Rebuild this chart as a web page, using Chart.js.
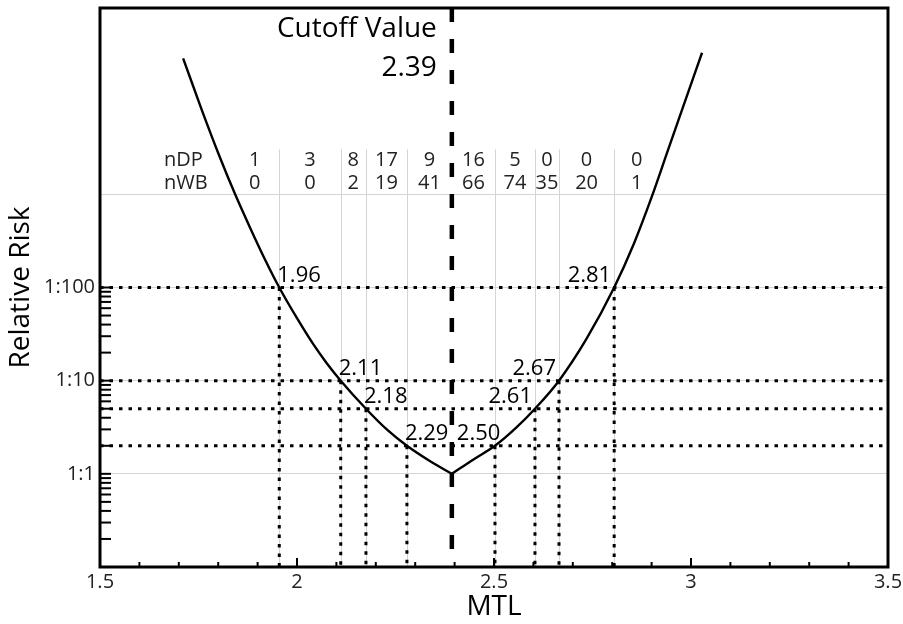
<!DOCTYPE html>
<html>
<head>
<meta charset="utf-8">
<script src="https://cdn.jsdelivr.net/npm/chart.js@4.4.1/dist/chart.umd.min.js"></script>
<style>
  html, body { margin: 0; padding: 0; background: #fff; }
  #wrap { width: 903px; height: 624px; }
</style>
</head>
<body>
<div id="wrap"><canvas id="chart"></canvas></div>
<script>
const FONT = '"Open Sans", "DejaVu Sans", sans-serif';

// fitted risk curve (MTL, relative risk)
const leftMTL   = [1.711, 1.758, 1.805, 1.843, 1.88, 1.92, 1.955, 2.0, 2.04, 2.075, 2.111, 2.175, 2.23, 2.279, 2.335, 2.393];
const leftRisk  = [28800, 8130, 2455, 1000, 447, 195, 100, 46.8, 25.1, 15.5, 10, 5, 2.94, 2, 1.39, 1];
const rightMTL  = [2.393, 2.45, 2.5025, 2.555, 2.604, 2.665, 2.735, 2.805, 2.855, 2.901, 2.942, 2.985, 3.028];
const rightRisk = [1, 1.445, 2, 3.09, 5, 10, 28.2, 100, 295, 955, 3020, 10000, 33100];

// thresholds marked on the curve
const thresholdMTL    = [1.955, 2.111, 2.175, 2.279, 2.5025, 2.604, 2.665, 2.805];
const thresholdRisk   = [100, 10, 5, 2, 2, 5, 10, 100];
const thresholdLabels = ['1.96', '2.11', '2.18', '2.29', '2.50', '2.61', '2.67', '2.81'];
const riskLevels      = [100, 10, 5, 2];

const cutoffMTL   = 2.393;
const cutoffLabel = '2.39';

// counts table
const binEdges = [1.83, 1.955, 2.111, 2.175, 2.279, 2.393, 2.5025, 2.604, 2.665, 2.805, 2.92];
const nDP = [1, 3, 8, 17, 9, 16, 5, 0, 0, 0];
const nWB = [0, 0, 2, 19, 41, 66, 74, 35, 20, 1];

// axes
const xTickValues = [1.5, 2, 2.5, 3, 3.5];
const xTickLabels = ['1.5', '2', '2.5', '3', '3.5'];
const xMinorTicks = [1.6, 1.7, 1.8, 1.9, 2.1, 2.2, 2.3, 2.4, 2.6, 2.7, 2.8, 2.9, 3.1, 3.2, 3.3, 3.4];
const yGridValues = [1, 10, 100, 1000];
const yTickValues = [1, 10, 100];
const yTickLabels = ['1:1', '1:10', '1:100'];
const yMinorTicks = [0.2, 0.3, 0.4, 0.5, 0.6, 0.7, 0.8, 0.9, 1, 2, 3, 4, 5, 6, 7, 8, 9, 10,
                     20, 30, 40, 50, 60, 70, 80, 90, 100];

const pts = (xs, ys) => xs.map((x, i) => ({ x: x, y: ys[i] }));

const datasets = [
  { data: pts(leftMTL, leftRisk), borderColor: '#000', borderWidth: 2.4, cubicInterpolationMode: 'monotone' },
  { data: pts(rightMTL, rightRisk), borderColor: '#000', borderWidth: 2.4, cubicInterpolationMode: 'monotone' },
  { data: [{ x: cutoffMTL, y: 100000 }, { x: cutoffMTL, y: 0.1 }], borderColor: '#000', borderWidth: 4.5, borderDash: [14, 17] }
];
riskLevels.forEach(r => {
  datasets.push({ data: [{ x: 1.5, y: r }, { x: 3.5, y: r }], borderColor: '#000', borderWidth: 3, borderDash: [3.5, 6] });
});
thresholdMTL.forEach((t, i) => {
  datasets.push({ data: [{ x: t, y: thresholdRisk[i] }, { x: t, y: 0.1 }], borderColor: '#000', borderWidth: 3, borderDash: [3.5, 6] });
});
datasets.forEach(d => { d.pointRadius = 0; d.fill = false; });

const decor = {
  id: 'decor',
  beforeDatasetsDraw(chart) {
    const { ctx, chartArea: a, scales: { x, y } } = chart;
    ctx.save();
    ctx.strokeStyle = '#d4d4d4';
    ctx.lineWidth = 1;
    const top = y.getPixelForValue(1000) - 45;
    binEdges.slice(1, -1).forEach(e => {
      if (e === cutoffMTL) return;
      const px = Math.round(x.getPixelForValue(e)) + 0.5;
      ctx.beginPath(); ctx.moveTo(px, top); ctx.lineTo(px, a.bottom); ctx.stroke();
    });
    ctx.restore();
  },
  afterDatasetsDraw(chart) {
    const { ctx, chartArea: a, scales: { x, y } } = chart;
    ctx.save();
    // minor ticks
    ctx.strokeStyle = '#000';
    ctx.lineWidth = 2;
    xMinorTicks.forEach(v => {
      const px = x.getPixelForValue(v);
      ctx.beginPath(); ctx.moveTo(px, a.bottom); ctx.lineTo(px, a.bottom - 5); ctx.stroke();
    });
    xTickValues.forEach(v => {
      const px = x.getPixelForValue(v);
      ctx.beginPath(); ctx.moveTo(px, a.bottom); ctx.lineTo(px, a.bottom - 9); ctx.stroke();
    });
    yMinorTicks.forEach(v => {
      const py = y.getPixelForValue(v);
      ctx.beginPath(); ctx.moveTo(a.left, py); ctx.lineTo(a.left + 11, py); ctx.stroke();
    });
    // box
    ctx.lineWidth = 3;
    ctx.strokeRect(a.left, a.top, a.right - a.left, a.bottom - a.top);

    ctx.fillStyle = '#000';
    ctx.textBaseline = 'alphabetic';
    // threshold labels
    const cx = x.getPixelForValue(cutoffMTL);
    ctx.font = '22px ' + FONT;
    thresholdMTL.forEach((t, i) => {
      const px = x.getPixelForValue(t);
      const py = y.getPixelForValue(thresholdRisk[i]) - 6;
      const w = ctx.measureText(thresholdLabels[i]).width;
      ctx.textAlign = 'left';
      if (t < cutoffMTL) {
        ctx.fillText(thresholdLabels[i], px - 2, py);
      } else {
        const left = Math.max(px - 3 - w, cx + 5);
        ctx.fillText(thresholdLabels[i], left, py);
      }
    });
    // cutoff text
    ctx.font = '28px ' + FONT;
    ctx.textAlign = 'right';
    ctx.fillText('Cutoff Value', cx - 15, a.top + 29);
    ctx.fillText(cutoffLabel, cx - 15, a.top + 68);
    // counts table
    ctx.font = '20px ' + FONT;
    ctx.fillStyle = '#222';
    const rowWB = y.getPixelForValue(1000) - 5;
    const rowDP = rowWB - 23;
    ctx.textAlign = 'left';
    ctx.fillText('nDP', 164, rowDP);
    ctx.fillText('nWB', 164, rowWB);
    ctx.textAlign = 'center';
    for (let i = 0; i < nDP.length; i++) {
      const mid = (x.getPixelForValue(binEdges[i]) + x.getPixelForValue(binEdges[i + 1])) / 2;
      ctx.fillText(String(nDP[i]), mid, rowDP);
      ctx.fillText(String(nWB[i]), mid, rowWB);
    }
    ctx.restore();
  }
};

new Chart(document.getElementById('chart'), {
  type: 'line',
  data: { datasets: datasets },
  plugins: [decor],
  options: {
    responsive: true,
    maintainAspectRatio: false,
    animation: false,
    layout: { padding: { top: 8, right: 15, left: 0, bottom: 0 } },
    plugins: { legend: { display: false }, tooltip: { enabled: false } },
    scales: {
      x: {
        type: 'linear',
        min: 1.5, max: 3.5,
        afterBuildTicks: s => { s.ticks = xTickValues.map(v => ({ value: v })); },
        afterFit: s => { s.height = 57; s.paddingLeft = 0; s.paddingRight = 0; },
        grid: { display: false, drawTicks: false },
        border: { display: false },
        ticks: {
          padding: 3,
          color: '#222',
          font: { family: FONT, size: 20 },
          maxRotation: 0,
          callback: v => xTickLabels[xTickValues.indexOf(v)]
        },
        title: { display: true, text: 'MTL', color: '#000', font: { family: FONT, size: 28 }, padding: { top: 0, bottom: 0 } }
      },
      y: {
        type: 'logarithmic',
        min: 0.1, max: 100000,
        afterBuildTicks: s => { s.ticks = yGridValues.map(v => ({ value: v })); },
        afterFit: s => { s.width = 100; s.paddingTop = 0; s.paddingBottom = 0; },
        grid: { color: '#d4d4d4', lineWidth: 1, drawTicks: false },
        border: { display: false },
        ticks: {
          padding: 5,
          color: '#222',
          font: { family: FONT, size: 20 },
          callback: v => { const k = yTickValues.indexOf(v); return k >= 0 ? yTickLabels[k] : ''; }
        },
        title: { display: true, text: 'Relative Risk', color: '#000', font: { family: FONT, size: 28 }, padding: { top: 4, bottom: 0 } }
      }
    }
  }
});
</script>
</body>
</html>
